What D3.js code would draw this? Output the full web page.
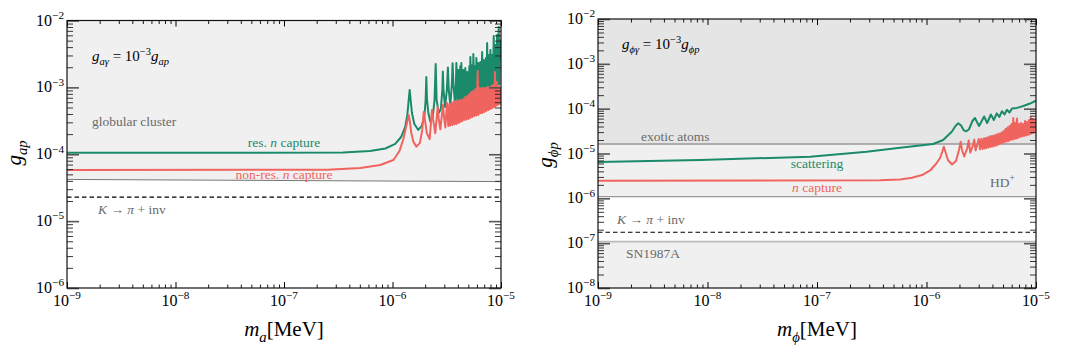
<!DOCTYPE html>
<html><head><meta charset="utf-8">
<script src="https://cdn.jsdelivr.net/npm/d3@7"></script>
<style>body{margin:0;background:#fff}svg{display:block}svg text{font-family:"Liberation Serif","DejaVu Serif",serif}</style>
</head><body><svg id="c" width="1074" height="356"></svg>
<script>
// ---------------- data ----------------
const massDomain = [1e-9, 1e-5];
const leftCouplingDomain = [1e-6, 1e-2];
const rightCouplingDomain = [1e-8, 1e-2];
const xTickExps = [-9, -8, -7, -6, -5];
const leftYTickExps = [-6, -5, -4, -3, -2];
const rightYTickExps = [-8, -7, -6, -5, -4, -3, -2];

// left panel: axion, g_ap
const axionResCapture = [[1e-9,1.05e-4],[3.5e-7,1.06e-4],[6.2e-7,1.12e-4],[8.6e-7,1.22e-4],[1.06e-6,1.43e-4],[1.2e-6,1.81e-4],[1.31e-6,2.56e-4],[1.37e-6,3.87e-4],[1.41e-6,6.48e-4],[1.44e-6,9.15e-4],[1.47e-6,6.48e-4],[1.51e-6,4.14e-4],[1.59e-6,2.84e-4],[1.73e-6,2.31e-4],[1.86e-6,2.65e-4],[1.97e-6,3.74e-4],[2.02e-6,6.48e-4],[2.05e-6,1.43e-3],[2.08e-6,6.48e-4],[2.14e-6,4.14e-4],[2.23e-6,3.09e-4],[2.35e-6,3.61e-4],[2.44e-6,6.48e-4],[2.50e-6,2.24e-3],[2.55e-6,6.48e-4],[2.67e-6,4.14e-4],[2.79e-6,4.75e-4],[2.88e-6,9.15e-4],[2.91e-6,1.73e-3],[2.95e-6,9.15e-4],[3.05e-6,5.09e-4],[3.17e-6,9.15e-4],[3.24e-6,1.98e-3],[3.30e-6,9.15e-4],[3.41e-6,5.46e-4],[3.52e-6,1.09e-3],[3.58e-6,2.29e-3],[3.65e-6,1.09e-3],[3.76e-6,5.85e-4],[3.84e-6,1.09e-3],[3.88e-6,2.32e-3],[3.96e-6,6.05e-4],[4.05e-6,1.82e-3],[4.13e-6,6.27e-4],[4.22e-6,2.09e-3],[4.26e-6,6.48e-4],[4.31e-6,2.32e-3],[4.40e-6,6.48e-4],[4.50e-6,1.82e-3],[4.59e-6,6.71e-4],[4.69e-6,1.95e-3],[4.80e-6,6.71e-4],[4.90e-6,1.70e-3],[5.00e-6,7.18e-4],[5.11e-6,2.09e-3],[5.16e-6,7.3e-4],[5.22e-6,2.85e-3],[5.33e-6,7.44e-4],[5.45e-6,2.16e-3],[5.50e-6,7.7e-4],[5.56e-6,3.16e-3],[5.68e-6,7.96e-4],[5.81e-6,2.09e-3],[5.87e-6,8.1e-4],[5.93e-6,2.75e-3],[6.06e-6,8.25e-4],[6.19e-6,2.32e-3],[6.32e-6,8.53e-4],[6.46e-6,2.40e-3],[6.60e-6,8.83e-4],[6.70e-6,3.38e-3],[6.81e-6,9.15e-4],[6.95e-6,2.57e-3],[7.10e-6,9.46e-4],[7.26e-6,2.75e-3],[7.35e-6,9.6e-4],[7.45e-6,4.61e-3],[7.57e-6,9.8e-4],[7.73e-6,3.05e-3],[7.87e-6,1.01e-3],[7.99e-6,3.62e-3],[8.16e-6,1.05e-3],[8.28e-6,3.05e-3],[8.42e-6,1.05e-3],[8.57e-6,5.86e-3],[8.73e-6,1.09e-3],[8.88e-6,4.30e-3],[9.03e-6,1.09e-3],[9.20e-6,6.07e-3],[9.36e-6,1.12e-3],[9.53e-6,8.0e-3],[9.66e-6,1.12e-3],[9.77e-6,5.11e-3],[1e-5,2.5e-3]];
const axionNonResCapture = [[1e-9,5.82e-5],[2.5e-7,5.85e-5],[5.05e-7,6.24e-5],[7.71e-7,6.92e-5],[1.02e-6,8.22e-5],[1.16e-6,1.12e-4],[1.26e-6,1.69e-4],[1.34e-6,2.65e-4],[1.41e-6,3.87e-4],[1.44e-6,3.26e-4],[1.49e-6,2.08e-4],[1.56e-6,1.53e-4],[1.66e-6,1.30e-4],[1.79e-6,1.48e-4],[1.88e-6,2.31e-4],[1.94e-6,4.29e-4],[1.99e-6,3.26e-4],[2.07e-6,2.08e-4],[2.20e-6,1.68e-4],[2.28e-6,3.49e-4],[2.31e-6,4.59e-4],[2.37e-6,3.26e-4],[2.48e-6,2.06e-4],[2.61e-6,5.14e-4],[2.66e-6,3.49e-4],[2.76e-6,2.36e-4],[2.92e-6,5.46e-4],[2.99e-6,3.49e-4],[3.07e-6,2.52e-4],[3.18e-6,5.85e-4],[3.27e-6,2.65e-4],[3.34e-6,5.65e-4],[3.41e-6,2.69e-4],[3.49e-6,5.85e-4],[3.56e-6,2.74e-4],[3.64e-6,6.05e-4],[3.72e-6,2.79e-4],[3.80e-6,6.27e-4],[3.88e-6,2.84e-4],[3.96e-6,6.27e-4],[4.05e-6,2.94e-4],[4.13e-6,6.48e-4],[4.22e-6,3.04e-4],[4.31e-6,6.48e-4],[4.40e-6,3.15e-4],[4.50e-6,6.71e-4],[4.59e-6,3.26e-4],[4.69e-6,7.18e-4],[4.80e-6,3.31e-4],[4.90e-6,7.44e-4],[5.00e-6,3.37e-4],[5.11e-6,7.96e-4],[5.22e-6,3.49e-4],[5.33e-6,8.53e-4],[5.45e-6,3.61e-4],[5.56e-6,8.83e-4],[5.68e-6,3.74e-4],[5.81e-6,9.46e-4],[5.93e-6,3.80e-4],[6.10e-6,1.76e-3],[6.19e-6,3.87e-4],[6.32e-6,9.8e-4],[6.46e-6,4.10e-4],[6.60e-6,9.8e-4],[6.74e-6,4.14e-4],[6.89e-6,9.8e-4],[7.03e-6,4.29e-4],[7.18e-6,9.8e-4],[7.34e-6,4.43e-4],[7.50e-6,1.01e-3],[7.66e-6,4.59e-4],[7.82e-6,1.01e-3],[7.99e-6,4.75e-4],[8.16e-6,1.05e-3],[8.34e-6,4.92e-4],[8.51e-6,1.09e-3],[8.69e-6,5.09e-4],[8.79e-6,1.70e-3],[8.97e-6,5.27e-4],[9.17e-6,1.20e-3],[9.36e-6,5.46e-4],[9.57e-6,1.05e-3],[9.77e-6,5.65e-4],[1e-5,9.8e-4]];
const globularClusterBound = [[1e-9,4.2e-5],[1e-5,3.9e-5]];
const axionKaonBound = [[1e-9,2.28e-5],[1e-5,2.28e-5]];

// right panel: scalar, g_phi p
const scalarScattering = [[1e-9,6.46e-6],[8.55e-9,7.16e-6],[8.63e-8,8.49e-6],[2.84e-7,1.10e-5],[5.73e-7,1.35e-5],[1.15e-6,1.63e-5],[1.42e-6,2.00e-5],[1.70e-6,3.06e-5],[1.84e-6,4.11e-5],[1.95e-6,4.72e-5],[2.07e-6,4.22e-5],[2.18e-6,3.34e-5],[2.29e-6,3.13e-5],[2.44e-6,3.43e-5],[2.63e-6,5.31e-5],[2.77e-6,6.19e-5],[3.02e-6,4.11e-5],[3.36e-6,6.69e-5],[3.58e-6,4.79e-5],[3.87e-6,7.41e-5],[4.12e-6,5.59e-5],[4.38e-6,7.88e-5],[4.62e-6,6.52e-5],[4.89e-6,8.78e-5],[5.15e-6,7.41e-5],[5.43e-6,9.44e-5],[5.73e-6,8.22e-5],[6.04e-6,1.01e-4],[6.70e-6,1.04e-4],[7.66e-6,1.15e-4],[8.81e-6,1.30e-4],[1e-5,1.50e-4]];
const scalarCapture = [[1e-9,2.47e-6],[3.76e-7,2.52e-6],[5.73e-7,2.63e-6],[7.37e-7,2.87e-6],[9.1e-7,3.31e-6],[1.08e-6,4.18e-6],[1.22e-6,5.83e-6],[1.33e-6,7.94e-6],[1.39e-6,1.08e-5],[1.44e-6,1.42e-5],[1.49e-6,1.08e-5],[1.57e-6,7.16e-6],[1.71e-6,5.68e-6],[1.86e-6,6.80e-6],[1.98e-6,1.20e-5],[2.05e-6,1.83e-5],[2.11e-6,1.20e-5],[2.21e-6,8.57e-6],[2.36e-6,1.33e-5],[2.43e-6,1.95e-5],[2.51e-6,1.05e-5],[2.63e-6,1.40e-5],[2.73e-6,2.02e-5],[2.81e-6,1.17e-5],[3.00e-6,2.11e-5],[3.08e-6,1.23e-5],[3.16e-6,2.11e-5],[3.25e-6,1.26e-5],[3.32e-6,2.16e-5],[3.39e-6,1.29e-5],[3.46e-6,2.22e-5],[3.53e-6,1.33e-5],[3.61e-6,2.27e-5],[3.68e-6,1.36e-5],[3.76e-6,2.39e-5],[3.84e-6,1.40e-5],[3.92e-6,2.46e-5],[4.01e-6,1.43e-5],[4.09e-6,2.52e-5],[4.18e-6,1.47e-5],[4.27e-6,2.59e-5],[4.36e-6,1.51e-5],[4.45e-6,2.72e-5],[4.55e-6,1.59e-5],[4.64e-6,2.79e-5],[4.74e-6,1.67e-5],[4.84e-6,2.94e-5],[4.94e-6,1.71e-5],[5.05e-6,3.18e-5],[5.16e-6,1.81e-5],[5.27e-6,3.52e-5],[5.38e-6,1.85e-5],[5.49e-6,3.80e-5],[5.61e-6,1.90e-5],[5.73e-6,4.11e-5],[5.85e-6,2.00e-5],[5.97e-6,4.55e-5],[6.10e-6,2.05e-5],[6.20e-6,6.19e-5],[6.34e-6,2.11e-5],[6.47e-6,4.79e-5],[6.59e-6,2.16e-5],[6.71e-6,6.03e-5],[6.85e-6,2.22e-5],[6.99e-6,4.55e-5],[7.14e-6,2.33e-5],[7.30e-6,4.79e-5],[7.45e-6,2.39e-5],[7.61e-6,4.55e-5],[7.77e-6,2.46e-5],[7.94e-6,5.31e-5],[8.10e-6,2.52e-5],[8.28e-6,5.04e-5],[8.45e-6,2.59e-5],[8.63e-6,5.59e-5],[8.81e-6,2.72e-5],[8.95e-6,6.52e-5],[9.10e-6,2.79e-5],[9.29e-6,5.88e-5],[9.49e-6,2.87e-5],[9.69e-6,5.59e-5],[9.90e-6,3.02e-5],[1e-5,5.31e-5]];
const exoticAtomsBound = [[1e-9,1.63e-5],[1e-5,1.63e-5]];
const hdPlusBound = [[1e-9,1.09e-6],[1e-5,1.09e-6]];
const sn1987aBound = [[1e-9,1.08e-7],[1e-5,1.08e-7]];
const scalarKaonBound = [[1e-9,1.75e-7],[1e-5,1.75e-7]];

// ---------------- drawing ----------------
const SERIF = "Liberation Serif";
const GREEN = "#1b8a6b", RED = "#f0645f", GREYTXT = "#6a6a6a";
const svg = d3.select("#c");

function rich(g, x, y, parts, size, color, anchor) {
  const t = g.append("text").attr("x", x).attr("y", y)
    .style("font-size", size + "px").style("font-family", SERIF)
    .attr("fill", color).attr("text-anchor", anchor || "start");
  let cur = 0;
  parts.forEach(p => {
    const off = p.sub ? size * 0.28 : p.sup ? -size * 0.42 : 0;
    const ts = t.append("tspan").attr("dy", off - cur).text(p.t);
    cur = off;
    if (p.sub || p.sup) ts.style("font-size", (size * 0.7) + "px");
    if (p.i) ts.style("font-style", "italic");
  });
  return t;
}

function panel(cfg) {
  const g = svg.append("g");
  const x = d3.scaleLog().domain(massDomain).range([cfg.x0, cfg.x1]);
  const y = d3.scaleLog().domain(cfg.yDomain).range([cfg.y1, cfg.y0]);
  const clipId = "clip" + cfg.id;
  svg.append("clipPath").attr("id", clipId).append("rect")
    .attr("x", cfg.x0).attr("y", cfg.y0).attr("width", cfg.x1 - cfg.x0).attr("height", cfg.y1 - cfg.y0);
  const plot = g.append("g").attr("clip-path", `url(#${clipId})`);
  const line = d3.line().x(d => x(d[0])).y(d => y(d[1]));
  const areaAbove = d3.area().x(d => x(d[0])).y0(() => cfg.y0).y1(d => y(d[1]));
  const areaBelow = d3.area().x(d => x(d[0])).y0(() => cfg.y1).y1(d => y(d[1]));
  cfg.draw(plot, x, y, line, areaAbove, areaBelow);

  // ticks
  const major = cfg.yExps.map(e => Math.pow(10, e));
  const minorY = [];
  cfg.yExps.forEach(e => { for (let k = 2; k <= 9; k++) { const v = k * Math.pow(10, e); if (v < cfg.yDomain[1]) minorY.push(v); } });
  const majorX = xTickExps.map(e => Math.pow(10, e));
  const minorX = [];
  xTickExps.forEach(e => { for (let k = 2; k <= 9; k++) { const v = k * Math.pow(10, e); if (v < massDomain[1]) minorX.push(v); } });
  const ax = (gen, tx, ty, vals, size, stroke, sw) => {
    const a = g.append("g").attr("transform", `translate(${tx},${ty})`)
      .call(gen.tickValues(vals).tickSize(size).tickFormat(""));
    a.select(".domain").remove();
    a.selectAll("line").attr("stroke", stroke).attr("stroke-width", sw);
  };
  ax(d3.axisBottom(x), 0, cfg.y1, minorX, -3.5, "#000", 0.9);
  ax(d3.axisBottom(x), 0, cfg.y1, majorX, -6, "#000", 1);
  ax(d3.axisTop(x), 0, cfg.y0, minorX, -3.5, "#000", 0.9);
  ax(d3.axisTop(x), 0, cfg.y0, majorX, -6, "#000", 1);
  ax(d3.axisLeft(y), cfg.x0, 0, minorY, -6, "#222", 0.9);
  ax(d3.axisLeft(y), cfg.x0, 0, major, -12, "#555", 1.6);
  ax(d3.axisRight(y), cfg.x1, 0, minorY, -6, "#222", 0.9);
  ax(d3.axisRight(y), cfg.x1, 0, major, -12, "#555", 1.6);

  // frame
  g.append("rect").attr("x", cfg.x0).attr("y", cfg.y0).attr("width", cfg.x1 - cfg.x0)
    .attr("height", cfg.y1 - cfg.y0).attr("fill", "none").attr("stroke", "#111").attr("stroke-width", 1.2);

  // tick labels
  xTickExps.forEach(e => {
    rich(g, x(Math.pow(10, e)), cfg.y1 + 17.5, [{ t: "10" }, { t: "\u2212" + Math.abs(e), sup: true }], 16, "#000", "middle");
  });
  cfg.yExps.forEach(e => {
    rich(g, cfg.x0 - 3, y(Math.pow(10, e)) + 5, [{ t: "10" }, { t: "\u2212" + Math.abs(e), sup: true }], 16, "#000", "end");
  });
  // axis labels
  rich(g, (cfg.x0 + cfg.x1) / 2, 336, [{ t: "m", i: true }, { t: cfg.sym, i: true, sub: true }, { t: "[MeV]" }], 21, "#000", "middle");
  const yl = g.append("g").attr("transform", `translate(${cfg.ylx},${cfg.yly}) rotate(-90)`);
  rich(yl, 0, 0, [{ t: "g", i: true }, { t: cfg.sym + "p", i: true, sub: true }], 21, "#000", "middle");
  cfg.annotate(g, x, y);
}

// left panel
panel({
  id: "L", x0: 67, x1: 501, y0: 20.5, y1: 288, yDomain: leftCouplingDomain, yExps: leftYTickExps,
  sym: "a", ylx: 21, yly: 153,
  draw(p, x, y, line, above) {
    p.append("path").datum(globularClusterBound).attr("d", above).attr("fill", "#f0f0f0");
    p.append("path").datum(globularClusterBound).attr("d", line).attr("fill", "none").attr("stroke", "#777").attr("stroke-width", 1);
    p.append("path").datum(axionKaonBound).attr("d", line).attr("fill", "none").attr("stroke", "#000").attr("stroke-width", 1.2).attr("stroke-dasharray", "4.5,3");
    p.append("path").datum(axionResCapture).attr("d", line).attr("fill", "none").attr("stroke", GREEN).attr("stroke-width", 2).attr("stroke-linejoin", "round");
    p.append("path").datum(axionNonResCapture).attr("d", line).attr("fill", "none").attr("stroke", RED).attr("stroke-width", 2).attr("stroke-linejoin", "round");
  },
  annotate(g) {
    rich(g, 92, 61, [{ t: "g", i: true }, { t: "a\u03b3", i: true, sub: true }, { t: " = 10" }, { t: "\u22123", sup: true }, { t: "g", i: true }, { t: "ap", i: true, sub: true }], 15, "#000");
    rich(g, 92, 126, [{ t: "globular cluster" }], 13.5, GREYTXT);
    rich(g, 98, 214, [{ t: "K", i: true }, { t: " \u2192 " }, { t: "\u03c0", i: true }, { t: " + inv" }], 13.5, GREYTXT);
    rich(g, 284, 147, [{ t: "res. " }, { t: "n", i: true }, { t: " capture" }], 13.5, GREEN, "middle");
    rich(g, 284, 179, [{ t: "non-res. " }, { t: "n", i: true }, { t: " capture" }], 13.5, RED, "middle");
  }
});

// right panel
panel({
  id: "R", x0: 598, x1: 1036, y0: 19, y1: 288, yDomain: rightCouplingDomain, yExps: rightYTickExps,
  sym: "\u03d5", ylx: 552, yly: 155,
  draw(p, x, y, line, above, below) {
    p.append("path").datum(hdPlusBound).attr("d", above).attr("fill", "#f0f0f0");
    p.append("path").datum(exoticAtomsBound).attr("d", above).attr("fill", "#e5e5e5");
    p.append("path").datum(sn1987aBound).attr("d", below).attr("fill", "#f0f0f0");
    p.append("path").datum(exoticAtomsBound).attr("d", line).attr("fill", "none").attr("stroke", "#999").attr("stroke-width", 1.3);
    p.append("path").datum(hdPlusBound).attr("d", line).attr("fill", "none").attr("stroke", "#999").attr("stroke-width", 1.3);
    p.append("path").datum(sn1987aBound).attr("d", line).attr("fill", "none").attr("stroke", "#bbb").attr("stroke-width", 1.6);
    p.append("path").datum(scalarKaonBound).attr("d", line).attr("fill", "none").attr("stroke", "#000").attr("stroke-width", 1.2).attr("stroke-dasharray", "4.5,3");
    p.append("path").datum(scalarScattering).attr("d", line).attr("fill", "none").attr("stroke", GREEN).attr("stroke-width", 2).attr("stroke-linejoin", "round");
    p.append("path").datum(scalarCapture).attr("d", line).attr("fill", "none").attr("stroke", RED).attr("stroke-width", 2).attr("stroke-linejoin", "round");
  },
  annotate(g) {
    rich(g, 622, 49, [{ t: "g", i: true }, { t: "\u03d5\u03b3", i: true, sub: true }, { t: " = 10" }, { t: "\u22123", sup: true }, { t: "g", i: true }, { t: "\u03d5p", i: true, sub: true }], 15, "#000");
    rich(g, 641, 141, [{ t: "exotic atoms" }], 13.5, GREYTXT);
    rich(g, 617, 224, [{ t: "K", i: true }, { t: " \u2192 " }, { t: "\u03c0", i: true }, { t: " + inv" }], 13.5, GREYTXT);
    rich(g, 626, 258, [{ t: "SN1987A" }], 13.5, GREYTXT);
    rich(g, 990, 187, [{ t: "HD" }, { t: "+", sup: true }], 13.5, GREYTXT);
    rich(g, 817, 168, [{ t: "scattering" }], 13.5, GREEN, "middle");
    rich(g, 817, 192, [{ t: "n", i: true }, { t: " capture" }], 13.5, RED, "middle");
  }
});
</script></body></html>
